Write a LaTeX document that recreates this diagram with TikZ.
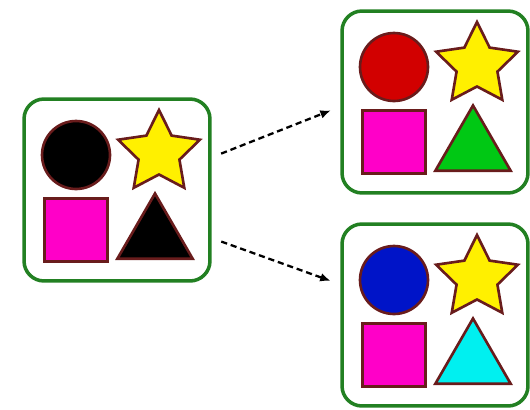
\documentclass[tikz,border=0pt]{standalone}
\usetikzlibrary{arrows.meta,shapes.geometric}
\definecolor{framegreen}{RGB}{34,128,34}
\definecolor{edgebrown}{RGB}{105,28,28}
\definecolor{boxmagenta}{RGB}{255,0,200}
\definecolor{staryellow}{RGB}{255,240,0}
\definecolor{shapered}{RGB}{210,0,0}
\definecolor{shapeblue}{RGB}{0,20,200}
\definecolor{shapegreen}{RGB}{0,200,20}
\definecolor{shapecyan}{RGB}{0,240,240}

\begin{document}
\begin{tikzpicture}[>=Latex,x=0.02cm,y=-0.02cm,
  every node/.style={inner sep=0pt,outer sep=0pt},
  panel/.style={draw=framegreen,line width=2pt,rounded corners=0.4cm,minimum width=3.72cm,minimum height=3.64cm},
  piece/.style={draw=edgebrown,line width=1.5pt},
  ball/.style={piece,circle,minimum size=1.36cm},
  block/.style={piece,rectangle,minimum size=1.26cm,fill=boxmagenta},
  spike/.style={piece,star,star points=5,star point ratio=2.0,minimum size=1.72cm,fill=staryellow},
  wedge/.style={piece,regular polygon,regular polygon sides=3,minimum size=1.74cm},
  link/.style={-{Latex[length=6pt,width=5pt]},line width=1.3pt,dash pattern=on 3.5pt off 2.2pt,shorten <=0.24cm,shorten >=0.24cm}]
  \useasboundingbox (0,0) rectangle (530,409);
  \foreach \name/\x/\y/\circ/\tri in {src/117/190/black/black,up/435/102/shapered/shapegreen,down/435/315/shapeblue/shapecyan}{
    \node[panel] (\name) at (\x,\y) {};
    \node[ball,fill=\circ] (\name-ball) at (\x-41,\y-35) {};
    \node[spike] (\name-star) at (\x+42,\y-37) {};
    \node[block] (\name-block) at (\x-41,\y+40) {};
    \node[wedge,fill=\tri] (\name-wedge) at (\x+38,\y+47) {};
  }
  \draw[link] ([yshift=0.64cm]src.east) -- ([yshift=-0.08cm]up.west);
  \draw[link] ([yshift=-0.95cm]src.east) -- ([yshift=0.6cm]down.west);
\end{tikzpicture}
\end{document}
